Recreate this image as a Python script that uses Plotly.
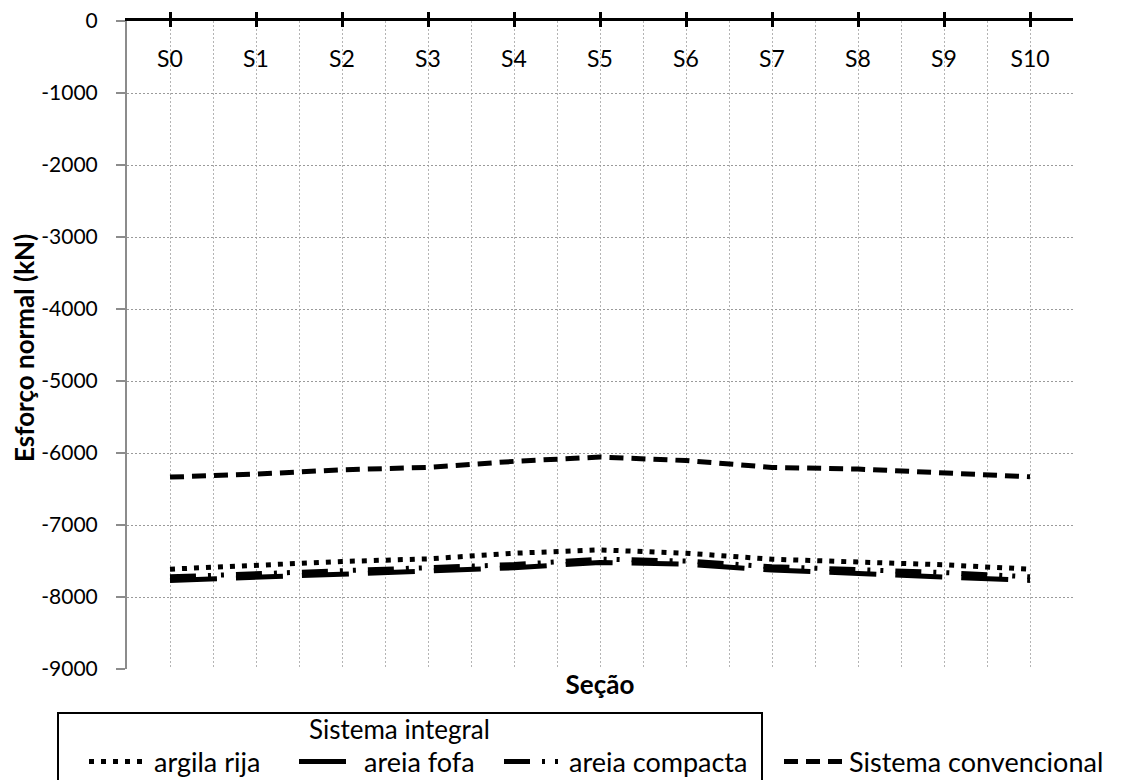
import plotly.graph_objects as go

# Cross sections along the deck
sections = ["S0", "S1", "S2", "S3", "S4", "S5", "S6", "S7", "S8", "S9", "S10"]

# Normal force (kN) per section
argila_rija = [-7613, -7553, -7507, -7470, -7392, -7346, -7392, -7475, -7507, -7553, -7613]
areia_fofa = [-7770, -7725, -7680, -7640, -7595, -7520, -7545, -7625, -7670, -7710, -7770]
areia_compacta = [-7720, -7675, -7630, -7595, -7550, -7475, -7500, -7580, -7620, -7660, -7720]
convencional = [-6335, -6293, -6233, -6200, -6116, -6056, -6105, -6200, -6223, -6280, -6330]

y_tick_values = [0, -1000, -2000, -3000, -4000, -5000, -6000, -7000, -8000, -9000]
y_tick_labels = ["0", "-1000", "-2000", "-3000", "-4000", "-5000", "-6000", "-7000", "-8000", "-9000"]

FONT = "Lato"
xpos = list(range(len(sections)))
XRANGE = [-0.5, 10.5]

W, H = 1121, 780
PLOT_L, PLOT_R, PLOT_T, PLOT_B = 127, 1073, 21, 669


def px_to_paper_x(px):
    return (px - PLOT_L) / (PLOT_R - PLOT_L)


def px_to_paper_y(py):
    return (PLOT_B - py) / (PLOT_B - PLOT_T)


fig = go.Figure()

fig.add_trace(go.Scatter(
    x=xpos, y=argila_rija, mode="lines", name="argila rija", xaxis="x",
    line=dict(color="black", width=5, dash="5px,7px"), legend="legend",
))
fig.add_trace(go.Scatter(
    x=xpos, y=areia_fofa, mode="lines", name="areia fofa", xaxis="x2",
    line=dict(color="black", width=5, dash="47px,19px"), legend="legend2",
))
fig.add_trace(go.Scatter(
    x=xpos, y=areia_compacta, mode="lines", name="areia compacta", xaxis="x3",
    line=dict(color="black", width=5, dash="26px,12px,3px,10px,3px,12px"), legend="legend3",
))
fig.add_trace(go.Scatter(
    x=xpos, y=convencional, mode="lines", name="Sistema convencional", xaxis="x4",
    line=dict(color="black", width=5, dash="14px,8px"), legend="legend4",
))

legend_style = dict(
    orientation="h", xanchor="left", yanchor="middle",
    xref="container", yref="container",
    bgcolor="rgba(0,0,0,0)", borderwidth=0,
    font=dict(family=FONT, size=27, color="black"),
    itemwidth=60,
)
leg_y = (H - 762) / H

fig.update_layout(
    width=W, height=H,
    showlegend=True,
    margin=dict(l=PLOT_L, r=W - PLOT_R, t=PLOT_T, b=H - PLOT_B, pad=0, autoexpand=False),
    paper_bgcolor="white", plot_bgcolor="white",
    font=dict(family=FONT, size=23, color="black"),
    legend=dict(x=84 / W, y=leg_y, **legend_style),
    legend2=dict(x=294 / W, y=leg_y, **legend_style),
    legend3=dict(x=499 / W, y=leg_y, **legend_style),
    legend4=dict(x=779 / W, y=leg_y, **legend_style),
    # top axis line with the outer half of the crossing ticks, plus the grid
    xaxis=dict(
        side="top", range=XRANGE, tickmode="array", tickvals=xpos, ticktext=sections,
        showticklabels=False,
        showline=True, linecolor="black", linewidth=3,
        ticks="outside", ticklen=6, tickwidth=3, tickcolor="black",
        showgrid=True, gridcolor="#b4b4b4", gridwidth=1, griddash="2px,2px",
        minor=dict(tickmode="linear", tick0=-0.5, dtick=1, showgrid=True,
                   gridcolor="#b4b4b4", gridwidth=1, griddash="2px,2px", ticks=""),
        zeroline=False,
    ),
    # inner half of the crossing ticks
    xaxis2=dict(
        overlaying="x", matches="x", anchor="y", side="top", range=XRANGE,
        tickmode="array", tickvals=xpos, ticktext=sections, showticklabels=False,
        ticks="inside", ticklen=6, tickwidth=3, tickcolor="black",
        showline=False, showgrid=False, zeroline=False,
    ),
    # axis title under the plot
    xaxis3=dict(
        overlaying="x", matches="x", anchor="y", side="bottom", range=XRANGE,
        showticklabels=False, ticks="", showline=False, showgrid=False, zeroline=False,
        title=dict(text="<b>Seção</b>", font=dict(family=FONT, size=26, color="black"), standoff=6),
    ),
    # section labels just below the top axis line
    xaxis4=dict(
        overlaying="x", matches="x", anchor="free", position=px_to_paper_y(43), side="bottom",
        range=XRANGE, tickmode="array", tickvals=xpos, ticktext=sections,
        showticklabels=True, ticks="", showline=False, showgrid=False, zeroline=False,
        tickfont=dict(family=FONT, size=23, color="black"),
    ),
    yaxis=dict(
        range=[-9000, 0], tickmode="array", tickvals=y_tick_values, ticktext=y_tick_labels,
        showline=True, linecolor="#8c8c8c", linewidth=2,
        ticks="outside", ticklen=9, tickwidth=2, tickcolor="#8c8c8c",
        ticklabelstandoff=14,
        tickfont=dict(family=FONT, size=21, color="black"),
        showgrid=True, gridcolor="#9a9a9a", gridwidth=1, griddash="2px,2px",
        zeroline=False,
    ),
    shapes=[dict(
        type="rect", xref="paper", yref="paper",
        x0=px_to_paper_x(58), x1=px_to_paper_x(762),
        y0=px_to_paper_y(713), y1=px_to_paper_y(800),
        line=dict(color="black", width=2), fillcolor="rgba(0,0,0,0)", layer="above",
    )],
    annotations=[
        dict(
            text="<b>Esforço normal (kN)</b>", xref="paper", yref="paper", textangle=-90,
            x=px_to_paper_x(24), y=px_to_paper_y(348), xanchor="center", yanchor="middle",
            showarrow=False, font=dict(family=FONT, size=26, color="black"),
        ),
        dict(
            text="Sistema integral", xref="paper", yref="paper",
            x=px_to_paper_x(399), y=px_to_paper_y(729), xanchor="center", yanchor="middle",
            showarrow=False, font=dict(family=FONT, size=26, color="black"),
        ),
    ],
)

fig.write_html("out.html")
